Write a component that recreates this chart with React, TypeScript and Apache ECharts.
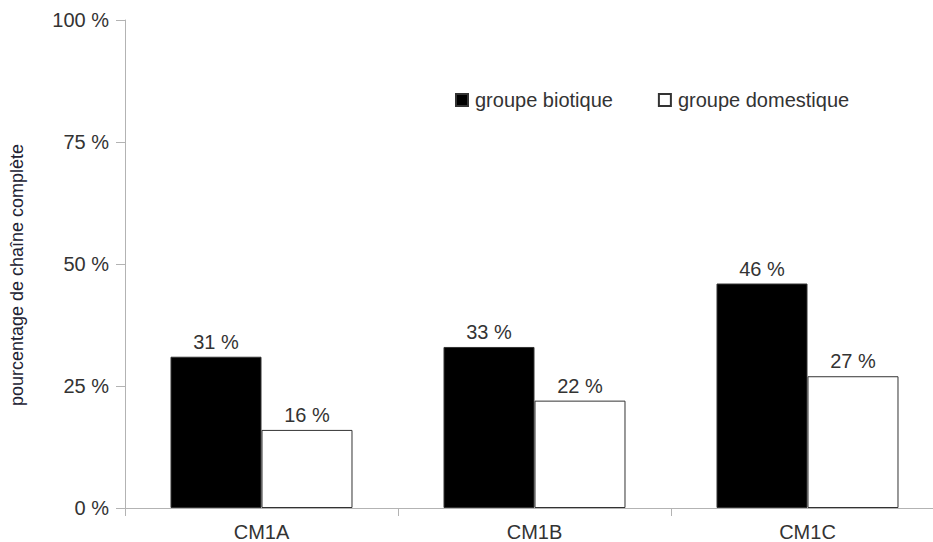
import React, { useEffect, useRef } from "react";
import * as echarts from "echarts";

const categories = ["CM1A", "CM1B", "CM1C"];
const biotique = [31, 33, 46];
const domestique = [16, 22, 27];
const yTicks = [0, 25, 50, 75, 100];
const seriesNames = ["groupe biotique", "groupe domestique"];

const FONT = "'Liberation Sans', Arial, sans-serif";
const TEXT = "#333333";
const AXIS = "#b3b3b3";
const FS = 20;

export default function App() {
  const ref = useRef<HTMLDivElement>(null);

  useEffect(() => {
    if (!ref.current) return;
    const chart = echarts.init(ref.current, null, { renderer: "svg" });
    const valueLabel = {
      show: true,
      position: "top",
      distance: 5,
      formatter: (p: any) => `${p.value} %`,
      color: TEXT,
      fontSize: FS,
      fontFamily: FONT,
    };
    chart.setOption({
      animation: false,
      backgroundColor: "#ffffff",
      textStyle: { fontFamily: FONT },
      grid: {
        left: 125,
        top: 20,
        width: 819,
        bottom: 34,
        containLabel: false,
        outerBoundsMode: "none",
      },
      legend: {
        left: 455,
        top: 90,
        padding: 0,
        itemWidth: 12,
        itemHeight: 12,
        itemGap: 45,
        icon: "rect",
        textStyle: { fontSize: FS, color: TEXT, fontFamily: FONT, padding: [0, 0, 0, 2] },
        data: seriesNames,
      },
      xAxis: {
        type: "category",
        data: categories,
        axisLine: { lineStyle: { color: AXIS, width: 1 } },
        axisTick: { show: true, length: 8, lineStyle: { color: AXIS } },
        axisLabel: { color: TEXT, fontSize: FS, fontFamily: FONT, margin: 14 },
        splitLine: { show: false },
      },
      yAxis: {
        type: "value",
        min: yTicks[0],
        max: yTicks[yTicks.length - 1],
        interval: 25,
        name: "pourcentage de chaîne complète",
        nameLocation: "middle",
        nameGap: 99,
        nameRotate: 90,
        nameTextStyle: {
          color: "#222233",
          fontSize: 18,
          fontFamily: FONT,
          padding: [0, 22, 0, 0],
        },
        axisLine: { show: true, lineStyle: { color: AXIS, width: 1 } },
        axisTick: { show: true, length: 9, lineStyle: { color: AXIS } },
        axisLabel: {
          color: TEXT,
          fontSize: FS,
          fontFamily: FONT,
          margin: 16,
          formatter: (v: number) => `${v} %`,
        },
        splitLine: { show: false },
      },
      series: [
        {
          name: seriesNames[0],
          type: "bar",
          data: biotique,
          barGap: "0%",
          barCategoryGap: "33.34%",
          itemStyle: { color: "#000000", borderColor: "#333333", borderWidth: 1 },
          label: valueLabel,
        },
        {
          name: seriesNames[1],
          type: "bar",
          data: domestique,
          itemStyle: { color: "#ffffff", borderColor: "#333333", borderWidth: 1 },
          label: valueLabel,
        },
      ],
    });
    return () => chart.dispose();
  }, []);

  return (
    <div
      ref={ref}
      style={{ position: "fixed", left: 0, top: 0, width: 933, height: 542, background: "#fff" }}
    />
  );
}
